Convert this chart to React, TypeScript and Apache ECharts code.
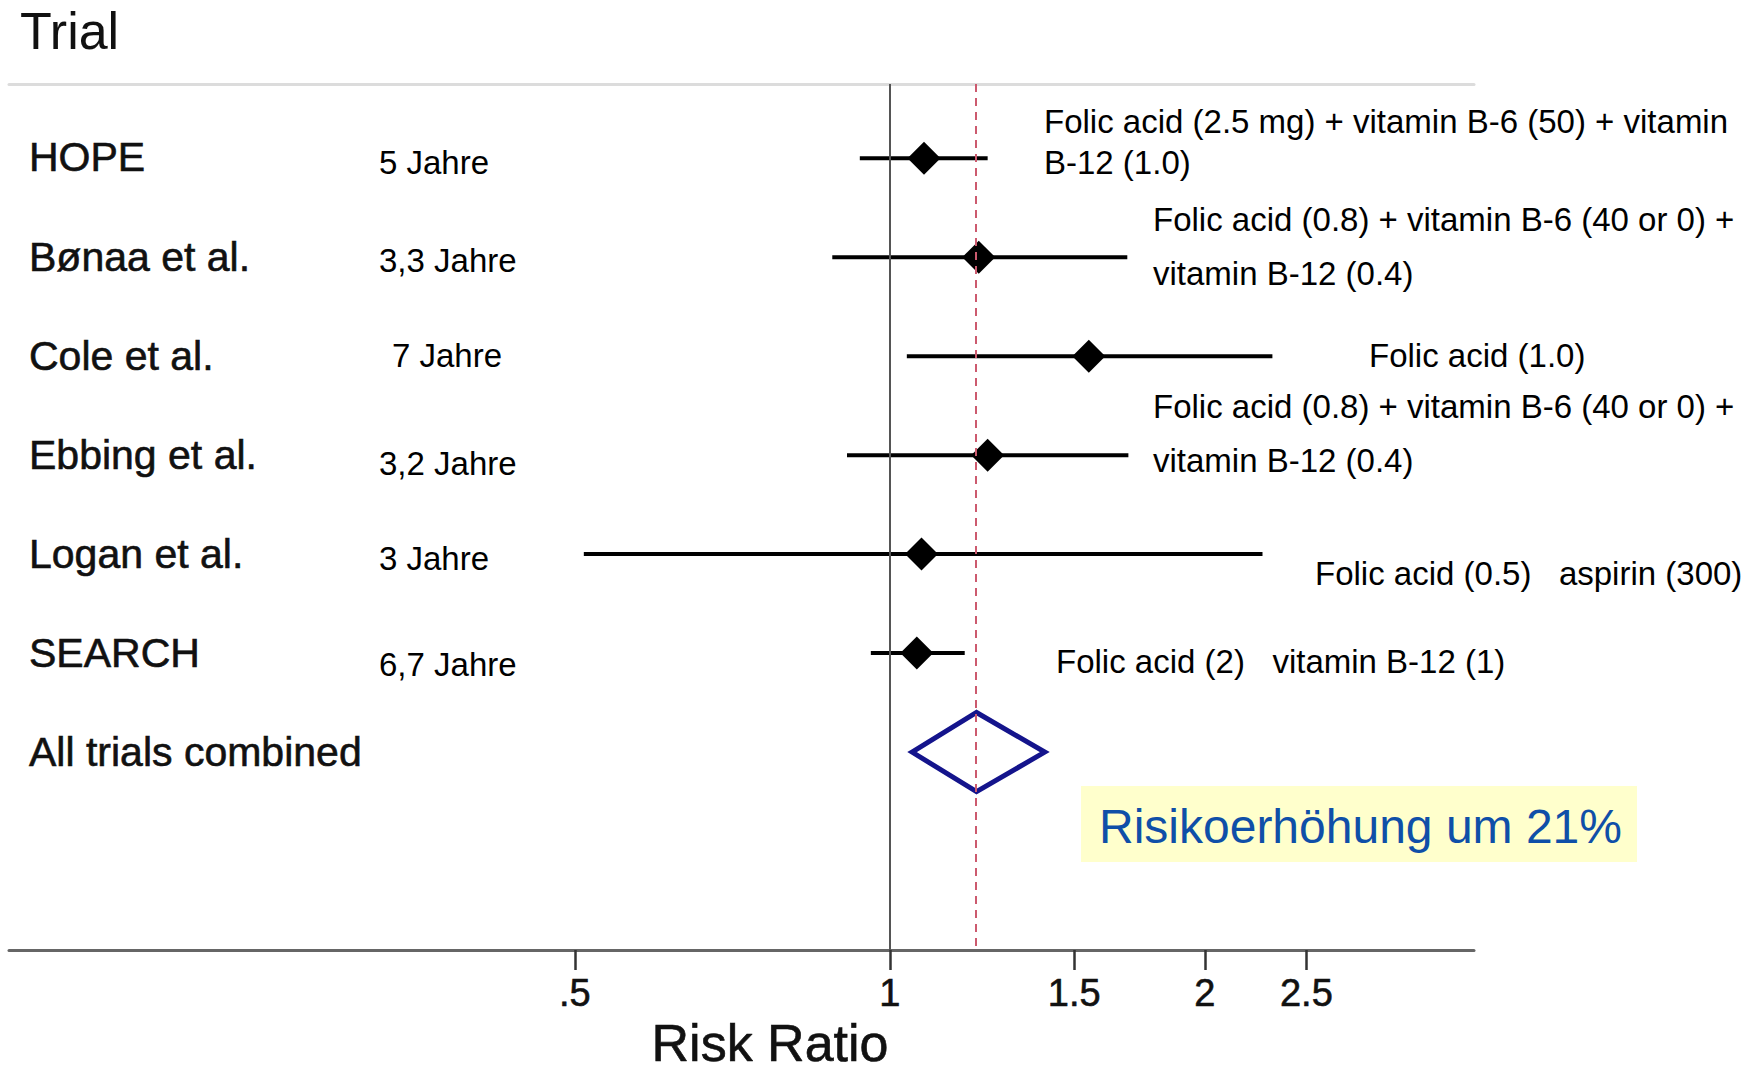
import React, { useEffect, useRef } from "react";
import * as echarts from "echarts";

// ---------- data ----------
const trials = ["HOPE", "Bønaa et al.", "Cole et al.", "Ebbing et al.", "Logan et al.", "SEARCH"];
const durations = ["5 Jahre", "3,3 Jahre", "7 Jahre", "3,2 Jahre", "3 Jahre", "6,7 Jahre"];
const riskRatio = [1.078, 1.216, 1.549, 1.24, 1.072, 1.061];
const ciLow = [0.936, 0.881, 1.038, 0.91, 0.51, 0.959];
const ciHigh = [1.24, 1.686, 2.32, 1.69, 2.27, 1.179];
const treatments = [
  ["Folic acid (2.5 mg) + vitamin B-6 (50) + vitamin", "B-12 (1.0)"],
  ["Folic acid (0.8) + vitamin B-6 (40 or 0) +", "vitamin B-12 (0.4)"],
  ["Folic acid (1.0)"],
  ["Folic acid (0.8) + vitamin B-6 (40 or 0) +", "vitamin B-12 (0.4)"],
  ["Folic acid (0.5)   aspirin (300)"],
  ["Folic acid (2)   vitamin B-12 (1)"],
];
const combinedLabel = "All trials combined";
const combinedRR = 1.21;
const combinedLow = 1.05;
const combinedHigh = 1.406;
const tickValues = [0.5, 1, 1.5, 2, 2.5];
const tickLabels = [".5", "1", "1.5", "2", "2.5"];
const axisRange = [0.144, 3.615];
const titleText = "Trial";
const axisTitle = "Risk Ratio";
const noteText = "Risikoerhöhung um 21%";

// ---------- layout (pixels) ----------
const FONT = "'Liberation Sans', Arial, Helvetica, sans-serif";
const nameX = 29;
const nameY = [157, 257, 356, 455, 554, 653, 752];
const durX = [379, 379, 392, 379, 379, 379];
const durY = [162, 260, 355, 463, 558, 664];
const treatX = [1044, 1153, 1369, 1153, 1315, 1056];
const treatY = [[121, 162], [219, 273], [355], [406, 460], [573], [661]];

const ln = Math.log;

export default function App() {
  const ref = useRef<HTMLDivElement>(null);

  useEffect(() => {
    document.body.style.margin = "0";
    const chart = echarts.init(ref.current!, undefined, { renderer: "svg" });

    const rows = trials.map((_, i) => i + 1);
    const combinedRow = trials.length + 1;
    const tickLn = tickValues.map((v) => ln(v));

    const heavy = { stroke: "#111", lineWidth: 0.6 };

    const graphics: any[] = [];
    graphics.push({
      type: "text",
      x: 20,
      y: 31,
      style: { text: titleText, font: `52px ${FONT}`, fill: "#111", verticalAlign: "middle" },
    });
    [...trials, combinedLabel].forEach((t, i) => {
      graphics.push({
        type: "text",
        x: nameX,
        y: nameY[i],
        style: { text: t, font: `41px ${FONT}`, fill: "#111", verticalAlign: "middle", ...heavy },
      });
    });
    durations.forEach((d, i) => {
      graphics.push({
        type: "text",
        x: durX[i],
        y: durY[i],
        style: { text: d, font: `33px ${FONT}`, fill: "#000", verticalAlign: "middle" },
      });
    });
    treatments.forEach((lines, i) => {
      lines.forEach((l, j) => {
        graphics.push({
          type: "text",
          x: treatX[i],
          y: treatY[i][j],
          style: { text: l, font: `33px ${FONT}`, fill: "#000", verticalAlign: "middle", whiteSpace: "pre" },
        });
      });
    });
    graphics.push({
      type: "rect",
      shape: { x: 1081, y: 786, width: 556, height: 76 },
      style: { fill: "#ffffcc" },
      z: 10,
    });
    graphics.push({
      type: "text",
      x: 1099,
      y: 826,
      z: 11,
      style: { text: noteText, font: `48px ${FONT}`, fill: "#0f4fa8", verticalAlign: "middle" },
    });
    graphics.push({
      type: "text",
      x: 770,
      y: 1043,
      style: { text: axisTitle, font: `52px ${FONT}`, fill: "#111", align: "center", verticalAlign: "middle", ...heavy },
    });

    const option: any = {
      animation: false,
      backgroundColor: "#fff",
      grid: { left: 9, right: 288, top: 84, bottom: 126, containLabel: false },
      xAxis: [
        {
          type: "value",
          position: "bottom",
          min: ln(axisRange[0]),
          max: ln(axisRange[1]),
          splitLine: { show: false },
          axisLine: { show: true, lineStyle: { color: "#666", width: 3 } },
          axisTick: {
            show: true,
            customValues: tickLn,
            length: 20,
            lineStyle: { color: "#333", width: 2.5 },
          },
          axisLabel: {
            show: true,
            customValues: tickLn,
            margin: 24,
            fontSize: 38,
            fontFamily: FONT,
            color: "#111",
            textBorderColor: "#111",
            textBorderWidth: 0.6,
            formatter: (v: number) => {
              const idx = tickLn.findIndex((t) => Math.abs(t - v) < 1e-6);
              return idx >= 0 ? tickLabels[idx] : "";
            },
          },
        },
        {
          type: "value",
          position: "top",
          min: ln(axisRange[0]),
          max: ln(axisRange[1]),
          splitLine: { show: false },
          axisLine: { show: true, lineStyle: { color: "#dcdcdc", width: 3 } },
          axisTick: { show: false },
          axisLabel: { show: false },
        },
      ],
      yAxis: { type: "value", inverse: true, min: 0.25, max: 9, show: false },
      graphic: graphics,
      series: [
        {
          type: "scatter",
          xAxisIndex: 0,
          data: [],
          z: 1,
          markLine: {
            silent: true,
            symbol: ["none", "none"],
            label: { show: false },
            data: [
              { xAxis: 0, lineStyle: { color: "#555", width: 2, type: "solid" } },
              { xAxis: ln(combinedRR), lineStyle: { color: "#cc5a6e", width: 2, type: [8, 6] } },
            ],
          },
        },
        {
          type: "custom",
          xAxisIndex: 0,
          z: 2,
          data: trials.map((_, i) => [ln(ciLow[i]), ln(ciHigh[i]), rows[i]]),
          encode: { x: [0, 1], y: 2 },
          renderItem: (params: any, api: any) => {
            const p1 = api.coord([api.value(0), api.value(2)]);
            const p2 = api.coord([api.value(1), api.value(2)]);
            return {
              type: "line",
              shape: { x1: p1[0], y1: p1[1], x2: p2[0], y2: p2[1] },
              style: { stroke: "#000", lineWidth: 4 },
            };
          },
        },
        {
          type: "scatter",
          xAxisIndex: 0,
          z: 3,
          symbol: "diamond",
          symbolSize: 33,
          itemStyle: { color: "#000", opacity: 1 },
          data: trials.map((_, i) => [ln(riskRatio[i]), rows[i]]),
        },
        {
          type: "custom",
          xAxisIndex: 0,
          z: 4,
          data: [[ln(combinedLow), ln(combinedRR), ln(combinedHigh), combinedRow]],
          encode: { x: [0, 1, 2], y: 3 },
          renderItem: (params: any, api: any) => {
            const r = api.value(3);
            const pl = api.coord([api.value(0), r]);
            const pc = api.coord([api.value(1), r]);
            const ph = api.coord([api.value(2), r]);
            const half = api.size([0, 0.4])[1];
            return {
              type: "polygon",
              shape: {
                points: [
                  [pl[0], pl[1]],
                  [pc[0], pc[1] - half],
                  [ph[0], ph[1]],
                  [pc[0], pc[1] + half],
                ],
              },
              style: { fill: "none", stroke: "#14148c", lineWidth: 5, lineJoin: "miter" },
            };
          },
        },
      ],
    };

    chart.setOption(option);
    return () => chart.dispose();
  }, []);

  return <div ref={ref} style={{ width: 1762, height: 1076 }} />;
}
